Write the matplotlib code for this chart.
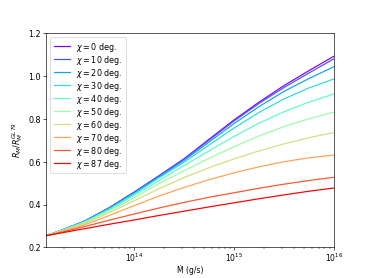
import numpy as np
import matplotlib
matplotlib.use('Agg')
import matplotlib.pyplot as plt

# log10 of accretion rate (g/s) where values were read
log_mdot = [13.12, 13.25, 13.5, 13.75, 14.0, 14.25, 14.5, 14.75, 15.0, 15.25, 15.5, 15.75, 16.0]

chi = [0, 10, 20, 30, 40, 50, 60, 70, 80, 87]

r_chi0 = [.255, .276, .322, .385, .458, .535, .614, .705, .795, .878, .955, 1.025, 1.092]
r_chi10 = [.255, .276, .322, .385, .458, .534, .612, .701, .790, .872, .946, 1.014, 1.080]
r_chi20 = [.255, .276, .321, .383, .455, .530, .606, .692, .778, .857, .928, .988, 1.043]
r_chi30 = [.255, .275, .320, .380, .450, .525, .598, .678, .757, .830, .893, .944, .986]
r_chi40 = [.255, .275, .318, .376, .443, .513, .582, .651, .718, .780, .833, .878, .916]
r_chi50 = [.255, .274, .315, .370, .432, .498, .558, .616, .670, .720, .764, .800, .831]
r_chi60 = [.255, .273, .311, .362, .418, .474, .526, .572, .613, .650, .683, .712, .736]
r_chi70 = [.255, .271, .305, .349, .395, .440, .480, .516, .548, .576, .600, .618, .631]
r_chi80 = [.255, .268, .297, .327, .356, .384, .410, .434, .455, .476, .495, .512, .527]
r_chi87 = [.255, .266, .287, .308, .328, .349, .369, .389, .408, .427, .445, .462, .477]

curves = [r_chi0, r_chi10, r_chi20, r_chi30, r_chi40,
          r_chi50, r_chi60, r_chi70, r_chi80, r_chi87]

mdot = 10.0 ** np.array(log_mdot)
colors = plt.cm.rainbow(np.linspace(0, 1, len(chi)))

fig, ax = plt.subplots(figsize=(6.4, 4.8), dpi=58)
for c, r, col in zip(chi, curves, colors):
    ax.plot(mdot, r, color=col, lw=1.5, label=r'$\chi = %d$ deg.' % c)

ax.set_xscale('log')
ax.set_xlim(mdot[0], 1e16)
ax.set_ylim(0.2, 1.2)
ax.tick_params(axis='x', which='major', labelsize=9.5, pad=1.5)
ax.set_xlabel('\u1e40 (g/s)', labelpad=1, fontsize=9.5)
ax.set_ylabel(r'$R_M/R_M^{GL79}$')
ax.legend(loc='upper left', labelspacing=0.0)
fig.savefig('out.png', dpi=58)
